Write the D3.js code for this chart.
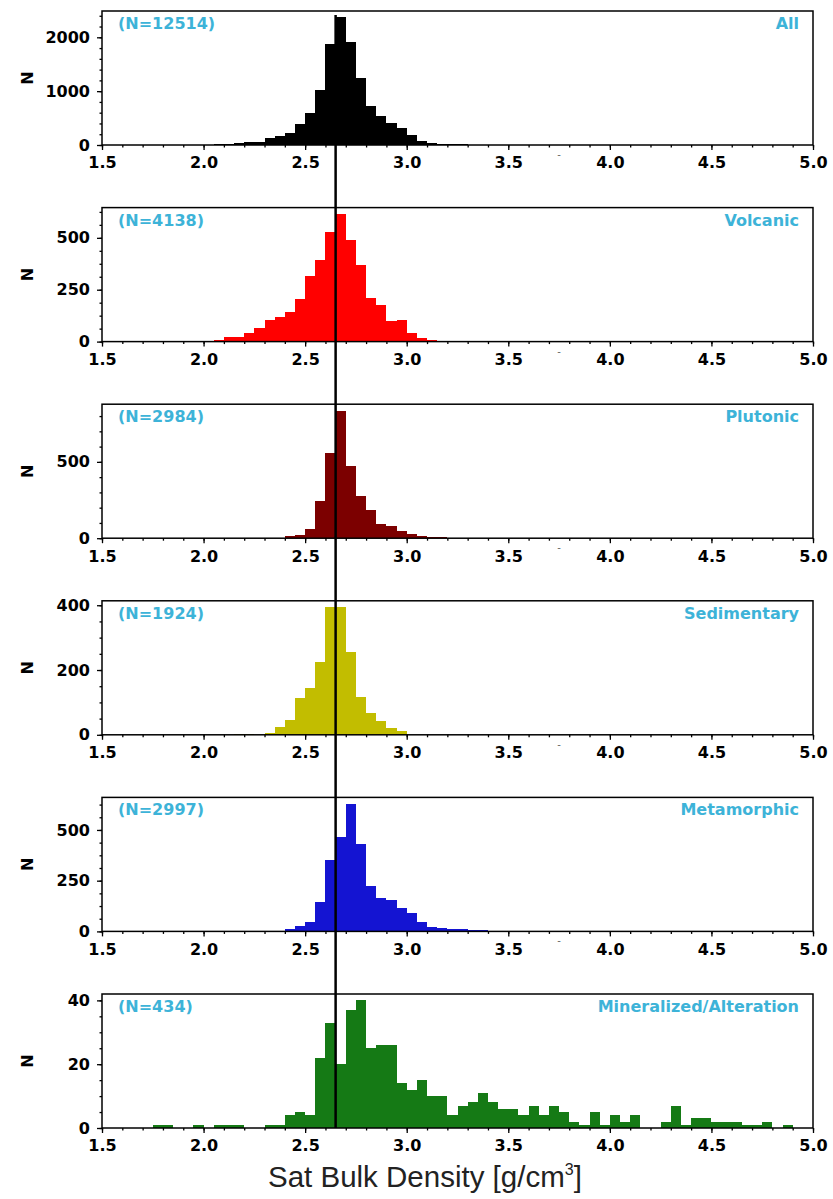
<!DOCTYPE html>
<html>
<head>
<meta charset="utf-8">
<script src="https://cdn.jsdelivr.net/npm/d3@7"></script>
<style>
  html, body { margin: 0; padding: 0; background: #fff; }
  svg { display: block; }
</style>
</head>
<body>
<svg id="chart" width="833" height="1199"></svg>
<script>
const width = 833;
const height = 1199;

// Data: histogram counts per 0.05 g/cm3 bin
const categories = ["All", "Volcanic", "Plutonic", "Sedimentary", "Metamorphic", "Mineralized/Alteration"];
const sampleCounts = [12514, 4138, 2984, 1924, 2997, 434];
const binWidth = 0.05;
const binStarts = [2.0, 2.05, 2.35, 2.15, 2.4, 1.75];

const allCounts = [6, 12, 20, 30, 50, 62, 123, 172, 222, 388, 586, 1030, 1870, 2370, 1909, 1251,
  727, 530, 401, 314, 185, 80, 37, 25, 18, 12, 8, 6, 4, 3, 2];
const volcanicCounts = [8, 21, 21, 40, 65, 105, 118, 142, 206, 316, 392, 527, 615, 492, 368, 211,
  174, 98, 102, 40, 16, 6, 3];
const plutonicCounts = [3, 15, 18, 59, 246, 559, 836, 471, 279, 185, 92, 81, 48, 26, 15, 9, 6, 4, 3, 2, 2];
const sedimentaryCounts = [3, 2, 0, 6, 24, 47, 115, 143, 225, 394, 394, 255, 117, 66, 42, 21, 12];
const metamorphicCounts = [10, 26, 48, 144, 350, 465, 629, 429, 223, 166, 154, 117, 92, 46, 21, 18,
  13, 11, 8, 6, 3, 2];
const mineralizedCounts = [1, 1, 0, 0, 1, 0, 1, 1, 1, 0, 0, 1, 1, 4, 5, 4, 22, 33, 20, 37, 40, 25, 26,
  26, 14, 12, 15, 10, 10, 4, 7, 8, 11, 8, 6, 6, 4, 7, 4, 7, 5, 2, 1, 5, 1, 4, 2, 4, 0, 0, 2, 7, 1, 3,
  3, 2, 2, 2, 1, 1, 2, 0, 1];

const seriesCounts = [allCounts, volcanicCounts, plutonicCounts, sedimentaryCounts, metamorphicCounts, mineralizedCounts];
const colors = ["#000000", "#ff0000", "#7c0000", "#c2bd00", "#1414d2", "#157a15"];
const yMajorStep = [1000, 250, 500, 200, 250, 20];
const yMinorStep = [200, 62.5, 100, 50, 62.5, 5];
const xTicks = [1.5, 2.0, 2.5, 3.0, 3.5, 4.0, 4.5, 5.0];
const refDensity = 2.65;

// Layout
const left = 102, right = 813;
const panelTop0 = 11, panelStep = 196.6, panelH = 134;
const labelBlue = "#3db3d8";
const tickFont = "DejaVu Sans, sans-serif";

const svg = d3.select("#chart");

const x = d3.scaleLinear().domain([1.5, 5.0]).range([left, right]);

categories.forEach((name, i) => {
  const top = panelTop0 + i * panelStep;
  const bottom = top + panelH;
  const counts = seriesCounts[i];
  const ymax = d3.max(counts) * 1.05;
  const y = d3.scaleLinear().domain([0, ymax]).range([bottom, top]);

  const g = svg.append("g");

  // bars (pixel-snapped so neighbouring bins merge without seams)
  g.selectAll("rect")
    .data(counts.map((c, k) => ({ x0: binStarts[i] + k * binWidth, c })))
    .join("rect")
    .attr("shape-rendering", "crispEdges")
    .attr("x", d => Math.round(x(d.x0)))
    .attr("width", d => Math.round(x(d.x0 + binWidth)) - Math.round(x(d.x0)))
    .attr("y", d => Math.round(y(d.c)))
    .attr("height", d => Math.round(bottom) - Math.round(y(d.c)))
    .attr("fill", colors[i]);

  // frame
  g.append("rect")
    .attr("x", left).attr("y", top)
    .attr("width", right - left).attr("height", panelH)
    .attr("fill", "none").attr("stroke", "#000").attr("stroke-width", 1.5);

  // x axis
  const xAxis = d3.axisBottom(x).tickValues(xTicks).tickFormat(d3.format(".1f"))
    .tickSize(5).tickPadding(7);
  const xMinor = d3.axisBottom(x).tickValues(d3.range(1.5, 5.0001, 0.1)).tickSize(2.5).tickFormat("");
  g.append("g").attr("transform", `translate(0,${bottom})`).call(xMinor);
  g.append("g").attr("transform", `translate(0,${bottom})`).call(xAxis);

  // y axis
  const yAxis = d3.axisLeft(y).tickValues(d3.range(0, ymax + 0.001, yMajorStep[i]))
    .tickFormat(d3.format("d")).tickSize(5).tickPadding(7);
  const yMinor = d3.axisLeft(y).tickValues(d3.range(0, ymax + 0.001, yMinorStep[i]))
    .tickSize(2.5).tickFormat("");
  g.append("g").attr("transform", `translate(${left},0)`).call(yMinor);
  g.append("g").attr("transform", `translate(${left},0)`).call(yAxis);

  g.selectAll(".domain").remove();
  g.selectAll(".tick line").attr("stroke", "#000").attr("stroke-width", 1.3);
  g.selectAll(".tick text")
    .attr("font-family", tickFont).attr("font-weight", "bold")
    .attr("font-size", 16).attr("fill", "#000");

  // y label
  g.append("text")
    .attr("transform", `translate(33,${(top + bottom) / 2}) rotate(-90)`)
    .attr("text-anchor", "middle")
    .attr("font-family", tickFont).attr("font-weight", "bold").attr("font-size", 16)
    .text("N");

  // annotations
  g.append("text")
    .attr("x", left + 16).attr("y", top + 18)
    .attr("font-family", tickFont).attr("font-weight", "bold").attr("font-size", 16)
    .attr("fill", labelBlue)
    .text(`(N=${sampleCounts[i]})`);
  g.append("text")
    .attr("x", right - 14).attr("y", top + 18)
    .attr("text-anchor", "end")
    .attr("font-family", tickFont).attr("font-weight", "bold").attr("font-size", 16)
    .attr("fill", labelBlue)
    .text(name);

  // small stray dash under the axis
  if (i < 5) {
    g.append("text")
      .attr("x", 559).attr("y", bottom + 13)
      .attr("text-anchor", "middle")
      .attr("font-family", tickFont).attr("font-size", 10).attr("fill", "#666")
      .text("-");
  }
});

// reference density line across all panels
svg.append("line")
  .attr("x1", x(refDensity)).attr("x2", x(refDensity))
  .attr("y1", panelTop0 + 4)
  .attr("y2", panelTop0 + 5 * panelStep + panelH)
  .attr("stroke", "#000").attr("stroke-width", 2.5);

// x label
const xl = svg.append("text")
  .attr("x", 268).attr("y", 1187)
  .attr("font-family", "Liberation Sans, Arial, sans-serif").attr("font-size", 29.5)
  .attr("fill", "#222");
xl.append("tspan").text("Sat Bulk Density [g/cm");
xl.append("tspan").attr("dy", -12).attr("font-size", 16).text("3");
xl.append("tspan").attr("dy", 12).text("]");
</script>
</body>
</html>
